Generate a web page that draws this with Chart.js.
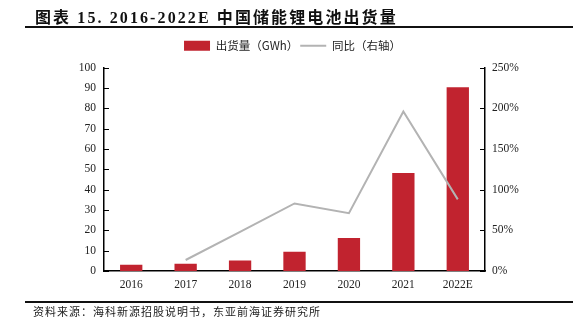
<!DOCTYPE html>
<html>
<head>
<meta charset="utf-8">
<script src="https://cdn.jsdelivr.net/npm/chart.js@4/dist/chart.umd.min.js"></script>
<style>
  html, body { margin: 0; padding: 0; background: #fff; }
  #wrap { position: relative; width: 585px; height: 329px; overflow: hidden; }
  #title { position: absolute; left: 35px; top: 4px; font: bold 16px "Liberation Serif", "Noto Sans CJK SC", serif; letter-spacing: 2.1px; color: #111; white-space: nowrap; }
  .rule { position: absolute; left: 25px; width: 548px; height: 2px; background: #111; }
  #note { position: absolute; left: 33px; top: 303px; font: 11px "Noto Sans CJK SC", sans-serif; letter-spacing: 1px; color: #222; white-space: nowrap; }
  #chartBox { position: absolute; left: 0; top: 0; width: 585px; height: 329px; }
</style>
</head>
<body>
<div id="wrap">
  <div id="chartBox"><canvas id="chart"></canvas></div>
  <div id="title">图表 15. 2016-2022E 中国储能锂电池出货量</div>
  <div class="rule" style="top:26px"></div>
  <div class="rule" style="top:301px"></div>
  <div id="note">资料来源：海科新源招股说明书，东亚前海证券研究所</div>
</div>
<script>
// Data
const years = ['2016', '2017', '2018', '2019', '2020', '2021', '2022E'];
const shipments = [3.1, 3.6, 5.1, 9.5, 16.2, 48.2, 90.3];      // GWh
const yoyGrowth = [null, 0.135, 0.48, 0.83, 0.71, 1.96, 0.88];  // ratio
const leftTicks = [0, 10, 20, 30, 40, 50, 60, 70, 80, 90, 100];
const rightTicks = [0, 0.5, 1, 1.5, 2, 2.5];

const serif = '"Liberation Serif", "Times New Roman", serif';

// short inward tick marks on both value axes
const innerTicks = {
  id: 'innerTicks',
  afterDraw(chart) {
    const c = chart.ctx;
    const area = chart.chartArea;
    c.save();
    c.strokeStyle = '#000';
    c.lineWidth = 1;
    chart.scales.y.ticks.forEach(t => {
      const py = Math.round(chart.scales.y.getPixelForValue(t.value)) + 0.5;
      c.beginPath(); c.moveTo(area.left, py); c.lineTo(area.left + 5, py); c.stroke();
    });
    chart.scales.y1.ticks.forEach(t => {
      const py = Math.round(chart.scales.y1.getPixelForValue(t.value)) + 0.5;
      c.beginPath(); c.moveTo(area.right - 5, py); c.lineTo(area.right, py); c.stroke();
    });
    c.restore();
  }
};

// extra gap under the legend
const legendGap = {
  id: 'legendGap',
  afterInit(chart) {
    const fit = chart.legend.fit;
    chart.legend.fit = function () {
      fit.bind(chart.legend)();
      this.height += 6;
    };
  }
};

new Chart(document.getElementById('chart'), {
  data: {
    labels: years,
    datasets: [
      {
        type: 'line',
        label: '同比（右轴）',
        data: yoyGrowth,
        yAxisID: 'y1',
        borderColor: '#b3b3b3',
        backgroundColor: '#b3b3b3',
        borderWidth: 2,
        pointRadius: 0,
        pointStyle: 'line',
        tension: 0,
        order: 0,
      },
      {
        type: 'bar',
        label: '出货量（GWh）',
        data: shipments,
        yAxisID: 'y',
        backgroundColor: '#c1232f',
        borderWidth: 0,
        pointStyle: 'rect',
        barPercentage: 0.41,
        categoryPercentage: 1,
        order: 1,
      },
    ],
  },
  options: {
    responsive: true,
    maintainAspectRatio: false,
    animation: false,
    layout: { padding: { top: 38, left: 0, right: 0, bottom: 0 } },
    plugins: {
      tooltip: { enabled: false },
      legend: {
        position: 'top',
        reverse: true,
        labels: {
          usePointStyle: true,
          pointStyleWidth: 26,
          boxHeight: 10,
          padding: 2,
          color: '#222',
          font: { family: '"Noto Sans CJK SC", sans-serif', size: 11.5 },
        },
      },
    },
    scales: {
      x: {
        grid: { display: false, drawTicks: false },
        border: { color: '#000', width: 1.5 },
        ticks: { color: '#222', font: { family: serif, size: 11.5 }, padding: 7 },
        afterFit(s) { s.height = 58; },
      },
      y: {
        position: 'left',
        min: 0,
        max: 100,
        afterBuildTicks(s) { s.ticks = leftTicks.map(v => ({ value: v })); },
        grid: { display: false, drawTicks: false },
        border: { color: '#000', width: 1.5 },
        ticks: { color: '#222', font: { family: serif, size: 11.5 }, padding: 8 },
        afterFit(s) { s.width = 104; },
      },
      y1: {
        position: 'right',
        min: 0,
        max: 2.5,
        afterBuildTicks(s) { s.ticks = rightTicks.map(v => ({ value: v })); },
        grid: { display: false, drawTicks: false },
        border: { color: '#000', width: 1.5 },
        ticks: {
          color: '#222',
          font: { family: serif, size: 11.5 },
          padding: 7,
          callback: v => Math.round(v * 100) + '%',
        },
        afterFit(s) { s.width = 100; },
      },
    },
  },
  plugins: [innerTicks, legendGap],
});
</script>
</body>
</html>
